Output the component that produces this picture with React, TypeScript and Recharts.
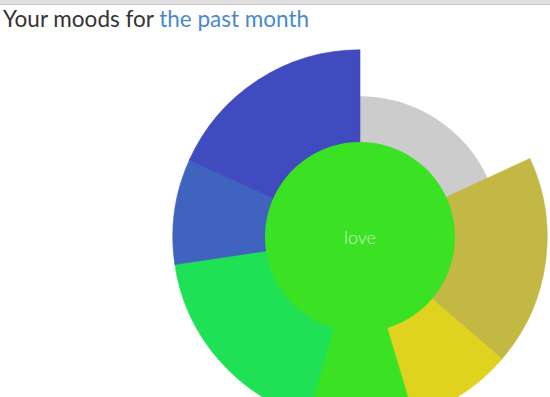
import { Cell, Pie, PieChart, PolarAngleAxis, PolarRadiusAxis, RadialBar, RadialBarChart } from 'recharts';

// one entry per mood, clockwise from 12 o'clock
const moods = ['meh', 'content', 'happy', 'love', 'calm', 'sad', 'down'];
const moodDays = [2, 2, 1, 1, 2, 1, 2];
const moodLevels = [6, 8, 8, 10, 8, 8, 8];
const moodColors = ['#cccccc', '#c2b843', '#dfd320', '#3be224', '#20e155', '#4063bf', '#414bc0'];

const topMood = 'love';
const levelDomain = [0, 10];

// each day of a mood gets its own angular band
const rows = moods.flatMap((mood, i) =>
  Array.from({ length: moodDays[i] }, (_, d) => ({
    key: `${mood}-${d}`,
    mood,
    level: moodLevels[i],
    color: moodColors[i],
  })),
);

const hub = [{ name: topMood, value: 1 }];
const hubColor = moodColors[moods.indexOf(topMood)];

// recharts draws a centric band counter-clockwise from its tick, so start one band early
const band = 360 / rows.length;
const startAngle = 90 - band;

const noMargin = { top: 0, right: 0, bottom: 0, left: 0 };

const HubLabel = ({ cx, cy }: { cx: number; cy: number }) => (
  <text
    x={cx}
    y={cy}
    textAnchor="middle"
    dominantBaseline="central"
    fill="rgba(255,255,255,0.72)"
    style={{ fontFamily: 'Lato, sans-serif', fontWeight: 300, fontSize: 18 }}
  >
    {topMood}
  </text>
);

export default function App(): JSX.Element {
  return (
    <div style={{ position: 'fixed', left: 0, top: 0, width: 550, height: 397, overflow: 'hidden', background: '#fff' }}>
      <div style={{ position: 'absolute', left: 0, top: 0, width: 550, height: 4, background: '#dedede', borderBottom: '1px solid #c9c9c9' }} />
      <div
        style={{
          position: 'absolute',
          left: 3,
          top: 6,
          fontFamily: 'Lato, sans-serif',
          fontSize: 22.5,
          lineHeight: '26px',
          color: '#333',
          whiteSpace: 'nowrap',
        }}
      >
        Your moods for <span style={{ color: '#4a89c9' }}>the past month</span>
      </div>

      <div style={{ position: 'absolute', left: 0, top: 0 }}>
        <RadialBarChart
          width={550}
          height={397}
          margin={noMargin}
          data={rows}
          cx={360}
          cy={237}
          innerRadius={0}
          outerRadius={234}
          startAngle={startAngle}
          endAngle={startAngle - 360}
          layout="centric"
          barCategoryGap={0}
          barGap={0}
        >
          <PolarAngleAxis type="category" dataKey="key" tick={false} tickLine={false} axisLine={false} />
          <PolarRadiusAxis type="number" domain={levelDomain} tick={false} tickLine={false} axisLine={false} />
          <RadialBar dataKey="level" isAnimationActive={false}>
            {rows.map((r) => (
              <Cell key={r.key} fill={r.color} stroke={r.color} strokeWidth={0.6} />
            ))}
          </RadialBar>
        </RadialBarChart>
      </div>

      <div style={{ position: 'absolute', left: 0, top: 0 }}>
        <PieChart width={550} height={397} margin={noMargin}>
          <Pie
            data={hub}
            dataKey="value"
            cx={360}
            cy={237}
            innerRadius={0}
            outerRadius={95}
            stroke="none"
            fill={hubColor}
            label={HubLabel}
            labelLine={false}
            isAnimationActive={false}
          />
        </PieChart>
      </div>
    </div>
  );
}
